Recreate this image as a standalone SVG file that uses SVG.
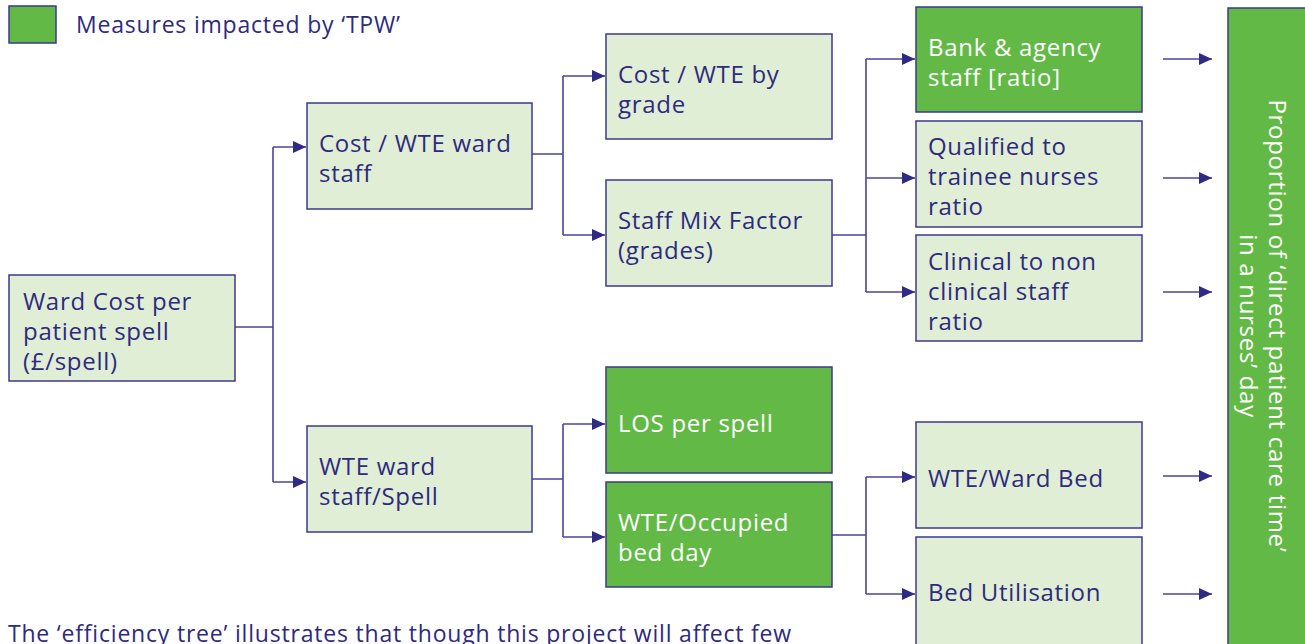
<svg xmlns="http://www.w3.org/2000/svg" width="1305" height="644" viewBox="0 0 1305 644">
  <defs>
    <marker id="arrow" viewBox="0 0 13 12" refX="13" refY="6" markerWidth="13" markerHeight="12" markerUnits="userSpaceOnUse" orient="auto">
      <path d="M0,0 L13,6 L0,12 Z" fill="#2e2a85"/>
    </marker>
    <style>
      .box { fill: #e0eed5; stroke: #3d3890; stroke-width: 1.5; }
      .hot { fill: #62b946; stroke: #3d3890; stroke-width: 1.5; }
      .lbl { font-family: "Open Sans", "Noto Sans", sans-serif; font-size: 24px; letter-spacing: 0.7px; fill: #2e2a7f; }
      .lblw { font-family: "Open Sans", "Noto Sans", sans-serif; font-size: 24px; letter-spacing: 0.7px; fill: #ffffff; }
      .note { font-family: "Open Sans", "Noto Sans", sans-serif; font-size: 23px; letter-spacing: 0.8px; fill: #2e2a7f; }
      .wire { fill: none; stroke: #4b44a0; stroke-width: 1.6; }
      .tip { fill: none; stroke: #4b44a0; stroke-width: 1.6; marker-end: url(#arrow); }
    </style>
  </defs>

  <rect width="1305" height="644" fill="#ffffff"/>

  <!-- legend -->
  <g id="legend">
    <rect x="9" y="6" width="47" height="37" class="hot"/>
    <text x="76" y="33" class="note">Measures impacted by ‘TPW’</text>
  </g>

  <!-- connectors -->
  <g id="connectors">
    <path class="wire" d="M235,327 H273 M273,147 V482"/>
    <path class="tip" d="M273,147 H306"/>
    <path class="tip" d="M273,482 H306"/>

    <path class="wire" d="M532,154 H563 M563,76 V235"/>
    <path class="tip" d="M563,76 H605"/>
    <path class="tip" d="M563,235 H605"/>

    <path class="wire" d="M832,235 H866 M866,59 V292"/>
    <path class="tip" d="M866,59 H915"/>
    <path class="tip" d="M866,178 H915"/>
    <path class="tip" d="M866,292 H915"/>

    <path class="wire" d="M532,479 H563 M563,424 V537"/>
    <path class="tip" d="M563,424 H605"/>
    <path class="tip" d="M563,537 H605"/>

    <path class="wire" d="M832,535 H866 M866,477 V594"/>
    <path class="tip" d="M866,477 H915"/>
    <path class="tip" d="M866,594 H915"/>

    <path class="tip" d="M1163,59 H1212"/>
    <path class="tip" d="M1163,178 H1212"/>
    <path class="tip" d="M1163,292 H1212"/>
    <path class="tip" d="M1163,476 H1212"/>
    <path class="tip" d="M1163,594 H1212"/>
  </g>

  <!-- nodes -->
  <g id="ward-cost">
    <rect x="9" y="275" width="226" height="106" class="box"/>
    <text class="lbl"><tspan x="23" y="310">Ward Cost per</tspan><tspan x="23" y="340">patient spell</tspan><tspan x="23" y="370">(£/spell)</tspan></text>
  </g>

  <g id="cost-wte-ward">
    <rect x="307" y="103" width="225" height="106" class="box"/>
    <text class="lbl"><tspan x="319" y="152">Cost / WTE ward</tspan><tspan x="319" y="182">staff</tspan></text>
  </g>

  <g id="cost-wte-grade">
    <rect x="606" y="34" width="226" height="105" class="box"/>
    <text class="lbl"><tspan x="618" y="83">Cost / WTE by</tspan><tspan x="618" y="113">grade</tspan></text>
  </g>

  <g id="staff-mix">
    <rect x="606" y="180" width="226" height="106" class="box"/>
    <text class="lbl"><tspan x="618" y="229">Staff Mix Factor</tspan><tspan x="618" y="259">(grades)</tspan></text>
  </g>

  <g id="bank-agency">
    <rect x="916" y="7" width="226" height="105" class="hot"/>
    <text class="lblw"><tspan x="928" y="56">Bank &amp; agency</tspan><tspan x="928" y="86">staff [ratio]</tspan></text>
  </g>

  <g id="qualified-trainee">
    <rect x="916" y="121" width="226" height="106" class="box"/>
    <text class="lbl"><tspan x="928" y="155">Qualified to</tspan><tspan x="928" y="185">trainee nurses</tspan><tspan x="928" y="215">ratio</tspan></text>
  </g>

  <g id="clinical-non">
    <rect x="916" y="235" width="226" height="106" class="box"/>
    <text class="lbl"><tspan x="928" y="270">Clinical to non</tspan><tspan x="928" y="300">clinical staff</tspan><tspan x="928" y="330">ratio</tspan></text>
  </g>

  <g id="wte-spell">
    <rect x="307" y="426" width="225" height="106" class="box"/>
    <text class="lbl"><tspan x="319" y="475">WTE ward</tspan><tspan x="319" y="505">staff/Spell</tspan></text>
  </g>

  <g id="los-spell">
    <rect x="606" y="367" width="226" height="106" class="hot"/>
    <text class="lblw" x="618" y="432">LOS per spell</text>
  </g>

  <g id="wte-occupied">
    <rect x="606" y="482" width="226" height="105" class="hot"/>
    <text class="lblw"><tspan x="618" y="531">WTE/Occupied</tspan><tspan x="618" y="561">bed day</tspan></text>
  </g>

  <g id="wte-ward-bed">
    <rect x="916" y="422" width="226" height="106" class="box"/>
    <text class="lbl" x="928" y="487">WTE/Ward Bed</text>
  </g>

  <g id="bed-utilisation">
    <rect x="916" y="537" width="226" height="110" class="box"/>
    <text class="lbl" x="928" y="601">Bed Utilisation</text>
  </g>

  <g id="direct-care">
    <rect x="1228" y="8" width="80" height="640" class="hot"/>
    <text class="lblw" text-anchor="middle" transform="translate(1269,326) rotate(90)"><tspan x="0" y="0">Proportion of ‘direct patient care time’</tspan><tspan x="0" y="29">in a nurses’ day</tspan></text>
  </g>

  <text class="note" x="8" y="642">The ‘efficiency tree’ illustrates that though this project will affect few</text>
</svg>
